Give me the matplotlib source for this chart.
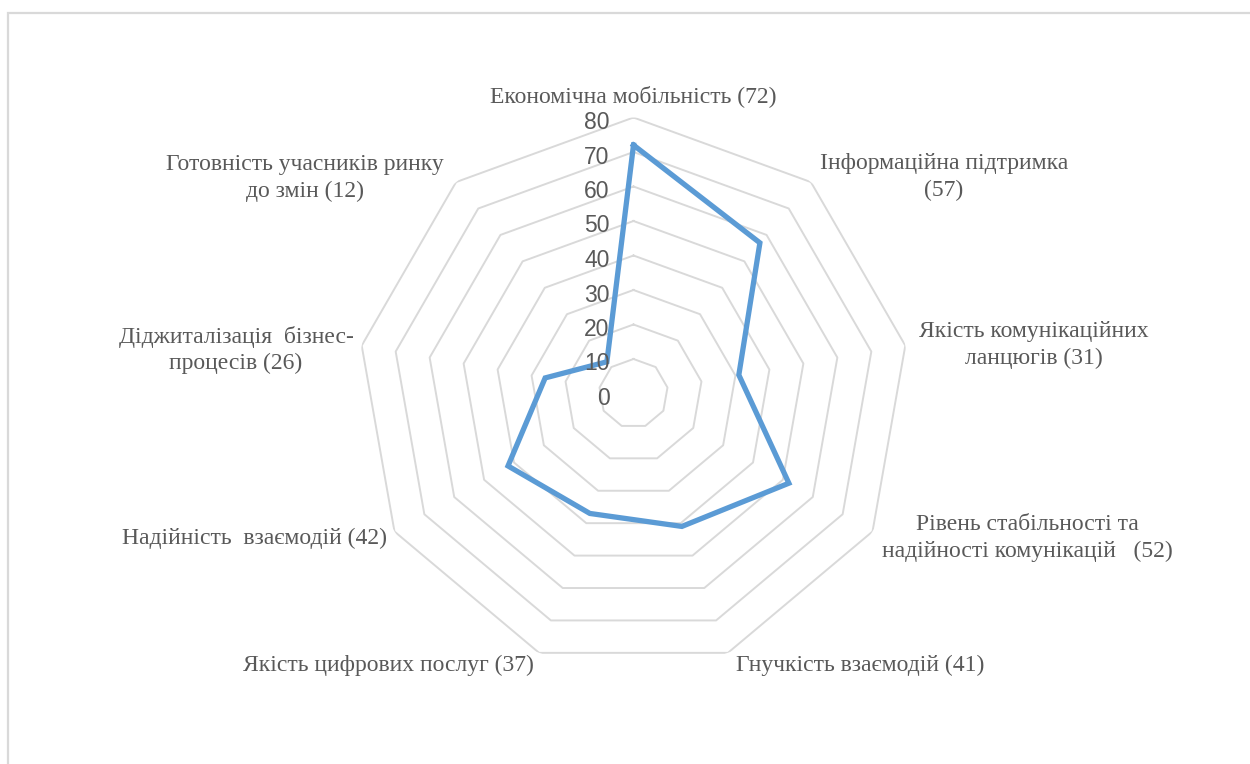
import numpy as np
import matplotlib.pyplot as plt
from matplotlib.patches import Rectangle

# categories and scores
categories = [
    'Економічна мобільність (72)',
    'Інформаційна підтримка\n(57)',
    'Якість комунікаційних\nланцюгів (31)',
    'Рівень стабільності та\nнадійності комунікацій   (52)',
    'Гнучкість взаємодій (41)',
    'Якість цифрових послуг (37)',
    'Надійність  взаємодій (42)',
    'Діджиталізація  бізнес-\nпроцесів (26)',
    'Готовність учасників ринку\nдо змін (12)',
]
values = [72, 57, 31, 52, 41, 37, 42, 26, 12]
ticks = [0, 10, 20, 30, 40, 50, 60, 70, 80]

# label centres in pixels (x from left, y from top)
label_px = [(633, 96), (944, 177), (1034, 345), (1027, 538), (860, 665),
            (388, 665), (255, 538), (236, 350), (305, 178)]

W, H = 1250, 764
cx, cy, R = 633.5, 393.5, 276

fig = plt.figure(figsize=(W / 100, H / 100), dpi=100)
fig.patch.set_facecolor('white')

# chart area border
fig.patches.append(Rectangle((7.5 / W, -0.1), 1.2, (H - 13.5) / H + 0.1,
                             transform=fig.transFigure, fill=False,
                             edgecolor='#d9d9d9', linewidth=1.6))

ax = fig.add_axes([(cx - R) / W, (H - cy - R) / H, 2 * R / W, 2 * R / H],
                  projection='polar')
ax.set_theta_zero_location('N')
ax.set_theta_direction(-1)
ax.set_ylim(0, 80)
ax.grid(False)
ax.spines['polar'].set_visible(False)
ax.set_xticks([])
ax.set_yticks([])
ax.patch.set_alpha(0)

n = len(categories)
theta = np.arange(n) * 2 * np.pi / n
theta_c = np.append(theta, theta[0])

# polygon gridlines
for t in ticks[1:]:
    ax.plot(theta_c, [t] * (n + 1), color='#d9d9d9', linewidth=1.4, zorder=1)

# data line
vals_c = values + values[:1]
ax.plot(theta_c, vals_c, color='#5b9bd5', linewidth=3.8,
        solid_joinstyle='miter', zorder=3)

# radial tick labels
for t in ticks:
    ax.annotate(str(t), xy=(0, t), xytext=(-24, -5), textcoords='offset pixels',
                ha='right', va='center', fontsize=16.5, color='#595959',
                family='Liberation Sans', zorder=4)

# category labels
for lab, (x, y) in zip(categories, label_px):
    fig.text(x / W, 1 - y / H, lab, ha='center', va='center',
             fontsize=17, color='#595959', family='Liberation Serif',
             linespacing=1.32)

plt.savefig('out.png', dpi=100)
